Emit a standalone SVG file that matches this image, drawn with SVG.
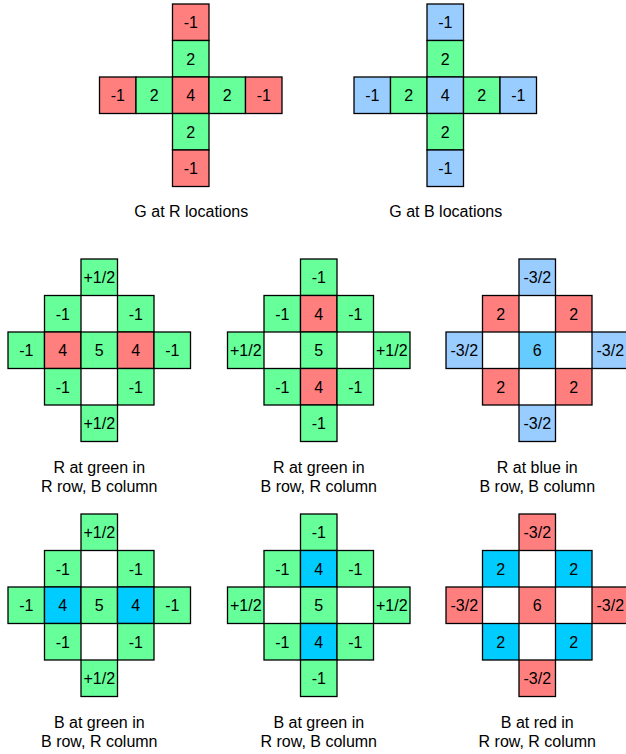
<svg xmlns="http://www.w3.org/2000/svg" width="626" height="754" viewBox="0 0 626 754">
<style>
rect{stroke:#000;stroke-width:1.3}
.r{fill:#FF7F7F}.g{fill:#66FF99}.lb{fill:#99CCFF}.mb{fill:#66CCFF}.c{fill:#00CCFF}
text{font-family:"Liberation Sans",Arial,sans-serif;font-size:16px;fill:#000;text-anchor:middle}
</style>

<g id="g-at-r" transform="translate(172.5,77)">
<rect class="r" x="0" y="-73" width="36.5" height="36.5"/><text x="18.25" y="-48.75">-1</text>
<rect class="g" x="0" y="-36.5" width="36.5" height="36.5"/><text x="18.25" y="-12.25">2</text>
<rect class="r" x="-73" y="0" width="36.5" height="36.5"/><text x="-54.75" y="24.25">-1</text>
<rect class="g" x="-36.5" y="0" width="36.5" height="36.5"/><text x="-18.25" y="24.25">2</text>
<rect class="r" x="0" y="0" width="36.5" height="36.5"/><text x="18.25" y="24.25">4</text>
<rect class="g" x="36.5" y="0" width="36.5" height="36.5"/><text x="54.75" y="24.25">2</text>
<rect class="r" x="73" y="0" width="36.5" height="36.5"/><text x="91.25" y="24.25">-1</text>
<rect class="g" x="0" y="36.5" width="36.5" height="36.5"/><text x="18.25" y="60.75">2</text>
<rect class="r" x="0" y="73" width="36.5" height="36.5"/><text x="18.25" y="97.25">-1</text>
<text x="18.75" y="139.5">G at R locations</text>
</g>

<g id="g-at-b" transform="translate(427,77)">
<rect class="lb" x="0" y="-73" width="36.5" height="36.5"/><text x="18.25" y="-48.75">-1</text>
<rect class="g" x="0" y="-36.5" width="36.5" height="36.5"/><text x="18.25" y="-12.25">2</text>
<rect class="lb" x="-73" y="0" width="36.5" height="36.5"/><text x="-54.75" y="24.25">-1</text>
<rect class="g" x="-36.5" y="0" width="36.5" height="36.5"/><text x="-18.25" y="24.25">2</text>
<rect class="lb" x="0" y="0" width="36.5" height="36.5"/><text x="18.25" y="24.25">4</text>
<rect class="g" x="36.5" y="0" width="36.5" height="36.5"/><text x="54.75" y="24.25">2</text>
<rect class="lb" x="73" y="0" width="36.5" height="36.5"/><text x="91.25" y="24.25">-1</text>
<rect class="g" x="0" y="36.5" width="36.5" height="36.5"/><text x="18.25" y="60.75">2</text>
<rect class="lb" x="0" y="73" width="36.5" height="36.5"/><text x="18.25" y="97.25">-1</text>
<text x="18.75" y="139.5">G at B locations</text>
</g>

<g id="r-at-green-rrow" transform="translate(81,332)">
<rect class="g" x="0" y="-73" width="36.5" height="36.5"/><text x="18.25" y="-48.75">+1/2</text>
<rect class="g" x="-36.5" y="-36.5" width="36.5" height="36.5"/><text x="-18.25" y="-12.25">-1</text>
<rect class="g" x="36.5" y="-36.5" width="36.5" height="36.5"/><text x="54.75" y="-12.25">-1</text>
<rect class="g" x="-73" y="0" width="36.5" height="36.5"/><text x="-54.75" y="24.25">-1</text>
<rect class="r" x="-36.5" y="0" width="36.5" height="36.5"/><text x="-18.25" y="24.25">4</text>
<rect class="g" x="0" y="0" width="36.5" height="36.5"/><text x="18.25" y="24.25">5</text>
<rect class="r" x="36.5" y="0" width="36.5" height="36.5"/><text x="54.75" y="24.25">4</text>
<rect class="g" x="73" y="0" width="36.5" height="36.5"/><text x="91.25" y="24.25">-1</text>
<rect class="g" x="-36.5" y="36.5" width="36.5" height="36.5"/><text x="-18.25" y="60.75">-1</text>
<rect class="g" x="36.5" y="36.5" width="36.5" height="36.5"/><text x="54.75" y="60.75">-1</text>
<rect class="g" x="0" y="73" width="36.5" height="36.5"/><text x="18.25" y="97.25">+1/2</text>
<text x="18.25" y="141">R at green in</text>
<text x="18.25" y="160">R row, B column</text>
</g>

<g id="r-at-green-brow" transform="translate(300.5,332)">
<rect class="g" x="0" y="-73" width="36.5" height="36.5"/><text x="18.25" y="-48.75">-1</text>
<rect class="g" x="-36.5" y="-36.5" width="36.5" height="36.5"/><text x="-18.25" y="-12.25">-1</text>
<rect class="r" x="0" y="-36.5" width="36.5" height="36.5"/><text x="18.25" y="-12.25">4</text>
<rect class="g" x="36.5" y="-36.5" width="36.5" height="36.5"/><text x="54.75" y="-12.25">-1</text>
<rect class="g" x="-73" y="0" width="36.5" height="36.5"/><text x="-54.75" y="24.25">+1/2</text>
<rect class="g" x="0" y="0" width="36.5" height="36.5"/><text x="18.25" y="24.25">5</text>
<rect class="g" x="73" y="0" width="36.5" height="36.5"/><text x="91.25" y="24.25">+1/2</text>
<rect class="g" x="-36.5" y="36.5" width="36.5" height="36.5"/><text x="-18.25" y="60.75">-1</text>
<rect class="r" x="0" y="36.5" width="36.5" height="36.5"/><text x="18.25" y="60.75">4</text>
<rect class="g" x="36.5" y="36.5" width="36.5" height="36.5"/><text x="54.75" y="60.75">-1</text>
<rect class="g" x="0" y="73" width="36.5" height="36.5"/><text x="18.25" y="97.25">-1</text>
<text x="18.25" y="141">R at green in</text>
<text x="18.25" y="160">B row, R column</text>
</g>

<g id="r-at-blue" transform="translate(519,332)">
<rect class="lb" x="0" y="-73" width="36.5" height="36.5"/><text x="18.25" y="-48.75">-3/2</text>
<rect class="r" x="-36.5" y="-36.5" width="36.5" height="36.5"/><text x="-18.25" y="-12.25">2</text>
<rect class="r" x="36.5" y="-36.5" width="36.5" height="36.5"/><text x="54.75" y="-12.25">2</text>
<rect class="lb" x="-73" y="0" width="36.5" height="36.5"/><text x="-54.75" y="24.25">-3/2</text>
<rect class="mb" x="0" y="0" width="36.5" height="36.5"/><text x="18.25" y="24.25">6</text>
<rect class="lb" x="73" y="0" width="36.5" height="36.5"/><text x="91.25" y="24.25">-3/2</text>
<rect class="r" x="-36.5" y="36.5" width="36.5" height="36.5"/><text x="-18.25" y="60.75">2</text>
<rect class="r" x="36.5" y="36.5" width="36.5" height="36.5"/><text x="54.75" y="60.75">2</text>
<rect class="lb" x="0" y="73" width="36.5" height="36.5"/><text x="18.25" y="97.25">-3/2</text>
<text x="18.25" y="141">R at blue in</text>
<text x="18.25" y="160">B row, B column</text>
</g>

<g id="b-at-green-brow" transform="translate(81,587)">
<rect class="g" x="0" y="-73" width="36.5" height="36.5"/><text x="18.25" y="-48.75">+1/2</text>
<rect class="g" x="-36.5" y="-36.5" width="36.5" height="36.5"/><text x="-18.25" y="-12.25">-1</text>
<rect class="g" x="36.5" y="-36.5" width="36.5" height="36.5"/><text x="54.75" y="-12.25">-1</text>
<rect class="g" x="-73" y="0" width="36.5" height="36.5"/><text x="-54.75" y="24.25">-1</text>
<rect class="c" x="-36.5" y="0" width="36.5" height="36.5"/><text x="-18.25" y="24.25">4</text>
<rect class="g" x="0" y="0" width="36.5" height="36.5"/><text x="18.25" y="24.25">5</text>
<rect class="c" x="36.5" y="0" width="36.5" height="36.5"/><text x="54.75" y="24.25">4</text>
<rect class="g" x="73" y="0" width="36.5" height="36.5"/><text x="91.25" y="24.25">-1</text>
<rect class="g" x="-36.5" y="36.5" width="36.5" height="36.5"/><text x="-18.25" y="60.75">-1</text>
<rect class="g" x="36.5" y="36.5" width="36.5" height="36.5"/><text x="54.75" y="60.75">-1</text>
<rect class="g" x="0" y="73" width="36.5" height="36.5"/><text x="18.25" y="97.25">+1/2</text>
<text x="18.25" y="141">B at green in</text>
<text x="18.25" y="160">B row, R column</text>
</g>

<g id="b-at-green-rrow" transform="translate(300.5,587)">
<rect class="g" x="0" y="-73" width="36.5" height="36.5"/><text x="18.25" y="-48.75">-1</text>
<rect class="g" x="-36.5" y="-36.5" width="36.5" height="36.5"/><text x="-18.25" y="-12.25">-1</text>
<rect class="c" x="0" y="-36.5" width="36.5" height="36.5"/><text x="18.25" y="-12.25">4</text>
<rect class="g" x="36.5" y="-36.5" width="36.5" height="36.5"/><text x="54.75" y="-12.25">-1</text>
<rect class="g" x="-73" y="0" width="36.5" height="36.5"/><text x="-54.75" y="24.25">+1/2</text>
<rect class="g" x="0" y="0" width="36.5" height="36.5"/><text x="18.25" y="24.25">5</text>
<rect class="g" x="73" y="0" width="36.5" height="36.5"/><text x="91.25" y="24.25">+1/2</text>
<rect class="g" x="-36.5" y="36.5" width="36.5" height="36.5"/><text x="-18.25" y="60.75">-1</text>
<rect class="c" x="0" y="36.5" width="36.5" height="36.5"/><text x="18.25" y="60.75">4</text>
<rect class="g" x="36.5" y="36.5" width="36.5" height="36.5"/><text x="54.75" y="60.75">-1</text>
<rect class="g" x="0" y="73" width="36.5" height="36.5"/><text x="18.25" y="97.25">-1</text>
<text x="18.25" y="141">B at green in</text>
<text x="18.25" y="160">R row, B column</text>
</g>

<g id="b-at-red" transform="translate(519,587)">
<rect class="r" x="0" y="-73" width="36.5" height="36.5"/><text x="18.25" y="-48.75">-3/2</text>
<rect class="c" x="-36.5" y="-36.5" width="36.5" height="36.5"/><text x="-18.25" y="-12.25">2</text>
<rect class="c" x="36.5" y="-36.5" width="36.5" height="36.5"/><text x="54.75" y="-12.25">2</text>
<rect class="r" x="-73" y="0" width="36.5" height="36.5"/><text x="-54.75" y="24.25">-3/2</text>
<rect class="r" x="0" y="0" width="36.5" height="36.5"/><text x="18.25" y="24.25">6</text>
<rect class="r" x="73" y="0" width="36.5" height="36.5"/><text x="91.25" y="24.25">-3/2</text>
<rect class="c" x="-36.5" y="36.5" width="36.5" height="36.5"/><text x="-18.25" y="60.75">2</text>
<rect class="c" x="36.5" y="36.5" width="36.5" height="36.5"/><text x="54.75" y="60.75">2</text>
<rect class="r" x="0" y="73" width="36.5" height="36.5"/><text x="18.25" y="97.25">-3/2</text>
<text x="18.25" y="141">B at red in</text>
<text x="18.25" y="160">R row, R column</text>
</g>

<g id="connectors"/>
</svg>
